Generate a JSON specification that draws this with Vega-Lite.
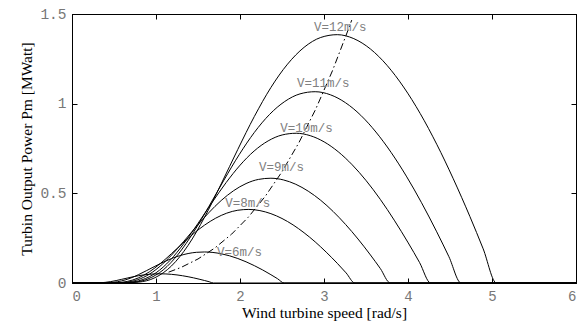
{
  "$schema": "https://vega.github.io/schema/vega-lite/v6.json",
  "width": 504,
  "height": 269,
  "autosize": "none",
  "padding": {"left": 72, "top": 14, "right": 2, "bottom": 39},
  "background": "white",
  "config": {"view": {"stroke": "black", "strokeWidth": 1}, "axis": {"grid": false}},
  "datasets": {
    "curves": [
      {"V":4,"w":0,"p":0},{"V":4,"w":0.197,"p":0},{"V":4,"w":0.263,"p":0.0002},{"V":4,"w":0.329,"p":0.0011},{"V":4,"w":0.395,"p":0.0035},{"V":4,"w":0.461,"p":0.0078},{"V":4,"w":0.526,"p":0.0136},{"V":4,"w":0.592,"p":0.0205},{"V":4,"w":0.658,"p":0.0276},{"V":4,"w":0.724,"p":0.0344},{"V":4,"w":0.789,"p":0.0404},{"V":4,"w":0.855,"p":0.0452},{"V":4,"w":0.921,"p":0.0487},{"V":4,"w":0.987,"p":0.0507},{"V":4,"w":1.053,"p":0.0513},{"V":4,"w":1.118,"p":0.0505},{"V":4,"w":1.184,"p":0.0483},{"V":4,"w":1.25,"p":0.045},{"V":4,"w":1.316,"p":0.0405},{"V":4,"w":1.382,"p":0.035},{"V":4,"w":1.447,"p":0.0287},{"V":4,"w":1.513,"p":0.0215},{"V":4,"w":1.579,"p":0.0137},{"V":4,"w":1.632,"p":0.0071},{"V":4,"w":1.684,"p":0},{"V":4,"w":6,"p":0},
      {"V":6,"w":0,"p":0},{"V":6,"w":0.296,"p":0},{"V":6,"w":0.395,"p":0.0006},{"V":6,"w":0.493,"p":0.0037},{"V":6,"w":0.592,"p":0.0119},{"V":6,"w":0.691,"p":0.0262},{"V":6,"w":0.789,"p":0.046},{"V":6,"w":0.888,"p":0.0691},{"V":6,"w":0.987,"p":0.0931},{"V":6,"w":1.086,"p":0.1161},{"V":6,"w":1.184,"p":0.1363},{"V":6,"w":1.283,"p":0.1525},{"V":6,"w":1.382,"p":0.1643},{"V":6,"w":1.48,"p":0.1711},{"V":6,"w":1.579,"p":0.1731},{"V":6,"w":1.678,"p":0.1703},{"V":6,"w":1.776,"p":0.1631},{"V":6,"w":1.875,"p":0.1517},{"V":6,"w":1.974,"p":0.1366},{"V":6,"w":2.072,"p":0.1182},{"V":6,"w":2.171,"p":0.0967},{"V":6,"w":2.27,"p":0.0727},{"V":6,"w":2.368,"p":0.0463},{"V":6,"w":2.447,"p":0.0238},{"V":6,"w":2.526,"p":0},{"V":6,"w":6,"p":0},
      {"V":8,"w":0,"p":0},{"V":8,"w":0.395,"p":0.0001},{"V":8,"w":0.526,"p":0.0014},{"V":8,"w":0.658,"p":0.0087},{"V":8,"w":0.789,"p":0.0281},{"V":8,"w":0.921,"p":0.0622},{"V":8,"w":1.053,"p":0.109},{"V":8,"w":1.184,"p":0.1637},{"V":8,"w":1.316,"p":0.2208},{"V":8,"w":1.447,"p":0.2752},{"V":8,"w":1.579,"p":0.323},{"V":8,"w":1.711,"p":0.3616},{"V":8,"w":1.842,"p":0.3894},{"V":8,"w":1.974,"p":0.4057},{"V":8,"w":2.105,"p":0.4103},{"V":8,"w":2.237,"p":0.4037},{"V":8,"w":2.368,"p":0.3866},{"V":8,"w":2.5,"p":0.3597},{"V":8,"w":2.632,"p":0.3239},{"V":8,"w":2.763,"p":0.2801},{"V":8,"w":2.895,"p":0.2293},{"V":8,"w":3.026,"p":0.1722},{"V":8,"w":3.158,"p":0.1098},{"V":8,"w":3.263,"p":0.0564},{"V":8,"w":3.368,"p":0},{"V":8,"w":6,"p":0},
      {"V":9,"w":0,"p":0},{"V":9,"w":0.444,"p":0.0001},{"V":9,"w":0.592,"p":0.002},{"V":9,"w":0.74,"p":0.0124},{"V":9,"w":0.888,"p":0.04},{"V":9,"w":1.036,"p":0.0885},{"V":9,"w":1.184,"p":0.1551},{"V":9,"w":1.332,"p":0.2331},{"V":9,"w":1.48,"p":0.3144},{"V":9,"w":1.628,"p":0.3918},{"V":9,"w":1.776,"p":0.4599},{"V":9,"w":1.924,"p":0.5148},{"V":9,"w":2.072,"p":0.5544},{"V":9,"w":2.22,"p":0.5776},{"V":9,"w":2.368,"p":0.5842},{"V":9,"w":2.516,"p":0.5749},{"V":9,"w":2.664,"p":0.5505},{"V":9,"w":2.812,"p":0.5121},{"V":9,"w":2.961,"p":0.4611},{"V":9,"w":3.109,"p":0.3988},{"V":9,"w":3.257,"p":0.3264},{"V":9,"w":3.405,"p":0.2452},{"V":9,"w":3.553,"p":0.1563},{"V":9,"w":3.671,"p":0.0804},{"V":9,"w":3.789,"p":0},{"V":9,"w":6,"p":0},
      {"V":10,"w":0,"p":0},{"V":10,"w":0.5,"p":0.0001},{"V":10,"w":0.667,"p":0.0029},{"V":10,"w":0.834,"p":0.0178},{"V":10,"w":1.001,"p":0.0572},{"V":10,"w":1.168,"p":0.1265},{"V":10,"w":1.334,"p":0.2217},{"V":10,"w":1.501,"p":0.3331},{"V":10,"w":1.668,"p":0.4493},{"V":10,"w":1.835,"p":0.56},{"V":10,"w":2.002,"p":0.6574},{"V":10,"w":2.168,"p":0.7359},{"V":10,"w":2.335,"p":0.7924},{"V":10,"w":2.502,"p":0.8255},{"V":10,"w":2.669,"p":0.835},{"V":10,"w":2.836,"p":0.8216},{"V":10,"w":3.002,"p":0.7868},{"V":10,"w":3.169,"p":0.732},{"V":10,"w":3.336,"p":0.6591},{"V":10,"w":3.503,"p":0.57},{"V":10,"w":3.67,"p":0.4665},{"V":10,"w":3.836,"p":0.3505},{"V":10,"w":4.003,"p":0.2234},{"V":10,"w":4.137,"p":0.1149},{"V":10,"w":4.27,"p":0},{"V":10,"w":6,"p":0},
      {"V":11,"w":0,"p":0},{"V":11,"w":0.543,"p":0.0002},{"V":11,"w":0.724,"p":0.0036},{"V":11,"w":0.905,"p":0.0227},{"V":11,"w":1.086,"p":0.0731},{"V":11,"w":1.266,"p":0.1616},{"V":11,"w":1.447,"p":0.2832},{"V":11,"w":1.628,"p":0.4255},{"V":11,"w":1.809,"p":0.5739},{"V":11,"w":1.99,"p":0.7154},{"V":11,"w":2.171,"p":0.8397},{"V":11,"w":2.352,"p":0.94},{"V":11,"w":2.533,"p":1.0122},{"V":11,"w":2.714,"p":1.0546},{"V":11,"w":2.895,"p":1.0667},{"V":11,"w":3.076,"p":1.0496},{"V":11,"w":3.257,"p":1.005},{"V":11,"w":3.438,"p":0.935},{"V":11,"w":3.618,"p":0.8419},{"V":11,"w":3.799,"p":0.7281},{"V":11,"w":3.98,"p":0.596},{"V":11,"w":4.161,"p":0.4477},{"V":11,"w":4.342,"p":0.2854},{"V":11,"w":4.487,"p":0.1467},{"V":11,"w":4.632,"p":0},{"V":11,"w":6,"p":0},
      {"V":12,"w":0,"p":0},{"V":12,"w":0.592,"p":0.0002},{"V":12,"w":0.789,"p":0.0047},{"V":12,"w":0.987,"p":0.0295},{"V":12,"w":1.184,"p":0.0949},{"V":12,"w":1.382,"p":0.2098},{"V":12,"w":1.579,"p":0.3677},{"V":12,"w":1.776,"p":0.5525},{"V":12,"w":1.974,"p":0.7451},{"V":12,"w":2.171,"p":0.9287},{"V":12,"w":2.368,"p":1.0902},{"V":12,"w":2.566,"p":1.2204},{"V":12,"w":2.763,"p":1.3141},{"V":12,"w":2.961,"p":1.3691},{"V":12,"w":3.158,"p":1.3848},{"V":12,"w":3.355,"p":1.3626},{"V":12,"w":3.553,"p":1.3048},{"V":12,"w":3.75,"p":1.2139},{"V":12,"w":3.947,"p":1.0931},{"V":12,"w":4.145,"p":0.9453},{"V":12,"w":4.342,"p":0.7737},{"V":12,"w":4.539,"p":0.5812},{"V":12,"w":4.737,"p":0.3705},{"V":12,"w":4.895,"p":0.1905},{"V":12,"w":5.053,"p":0},{"V":12,"w":6,"p":0}
    ],
    "opt": [
      {"w":1.15,"p":0.0604},{"w":1.3,"p":0.0872},{"w":1.5,"p":0.134},{"w":1.7,"p":0.195},{"w":1.9,"p":0.2723},{"w":2.1,"p":0.3677},{"w":2.3,"p":0.483},{"w":2.5,"p":0.6203},{"w":2.7,"p":0.7814},{"w":2.9,"p":0.9682},{"w":3.1,"p":1.1827},{"w":3.3,"p":1.4267},{"w":3.33,"p":1.466}
    ],
    "labels": [
      {"label":"V=12m/s","w":3.194,"p":1.43},
      {"label":"V=11m/s","w":2.992,"p":1.114},
      {"label":"V=10m/s","w":2.793,"p":0.866},
      {"label":"V=9m/s","w":2.495,"p":0.645},
      {"label":"V=8m/s","w":2.093,"p":0.444},
      {"label":"V=6m/s","w":1.994,"p":0.174}
    ]
  },
  "layer": [
    {
      "data": {"name": "curves"},
      "mark": {"type": "line", "interpolate": "monotone", "stroke": "black", "strokeWidth": 1, "clip": true},
      "encoding": {
        "x": {"field": "w", "type": "quantitative", "scale": {"domain": [0, 6], "nice": false, "zero": false},
          "axis": {"orient": "bottom", "values": [0,1,2,3,4,5,6], "labelExpr": "datum.value", "tickSize": -5, "tickColor": "black", "domainColor": "black", "labelPadding": 11, "labelFont": "Liberation Mono", "labelFontSize": 14, "labelColor": "#777777", "labelFontWeight": "normal",
            "title": "Wind turbine speed [rad/s]", "titleFont": "Liberation Serif", "titleFontSize": 15.5, "titleFontWeight": "normal", "titleColor": "black", "titleBaseline": "alphabetic", "titleAlign": "center", "titleX": 252, "titleY": 34.5}},
        "y": {"field": "p", "type": "quantitative", "scale": {"domain": [0, 1.5], "nice": false},
          "axis": {"orient": "left", "values": [0,0.5,1,1.5], "labelExpr": "datum.value", "tickSize": -5, "tickColor": "black", "domainColor": "black", "labelPadding": 11, "labelFont": "Liberation Mono", "labelFontSize": 14.5, "labelColor": "#777777",
            "title": "Turbin Output Power Pm [MWatt]", "titleFont": "Liberation Serif", "titleFontSize": 15.5, "titleFontWeight": "normal", "titleColor": "black", "titleBaseline": "alphabetic", "titleAlign": "center", "titleAngle": 270, "titleX": -41, "titleY": 134.5}},
        "detail": {"field": "V", "type": "nominal"}
      }
    },
    {
      "data": {"name": "opt"},
      "mark": {"type": "line", "stroke": "black", "strokeWidth": 1, "strokeDash": [7, 3, 1.5, 3]},
      "encoding": {
        "x": {"field": "w", "type": "quantitative", "axis": null},
        "y": {"field": "p", "type": "quantitative", "axis": null}
      }
    },
    {
      "data": {"name": "labels"},
      "mark": {"type": "text", "font": "Liberation Mono", "fontSize": 12.5, "color": "#808080", "align": "center", "baseline": "middle"},
      "encoding": {
        "x": {"field": "w", "type": "quantitative", "axis": {"orient": "top", "values": [0,1,2,3,4,5,6], "labels": false, "tickSize": -5, "tickColor": "black", "domainColor": "black", "title": null}},
        "y": {"field": "p", "type": "quantitative", "axis": {"orient": "right", "values": [0,0.5,1,1.5], "labels": false, "tickSize": -5, "tickColor": "black", "domainColor": "black", "title": null}},
        "text": {"field": "label", "type": "nominal"}
      }
    }
  ],
  "resolve": {"axis": {"x": "independent", "y": "independent"}}
}
